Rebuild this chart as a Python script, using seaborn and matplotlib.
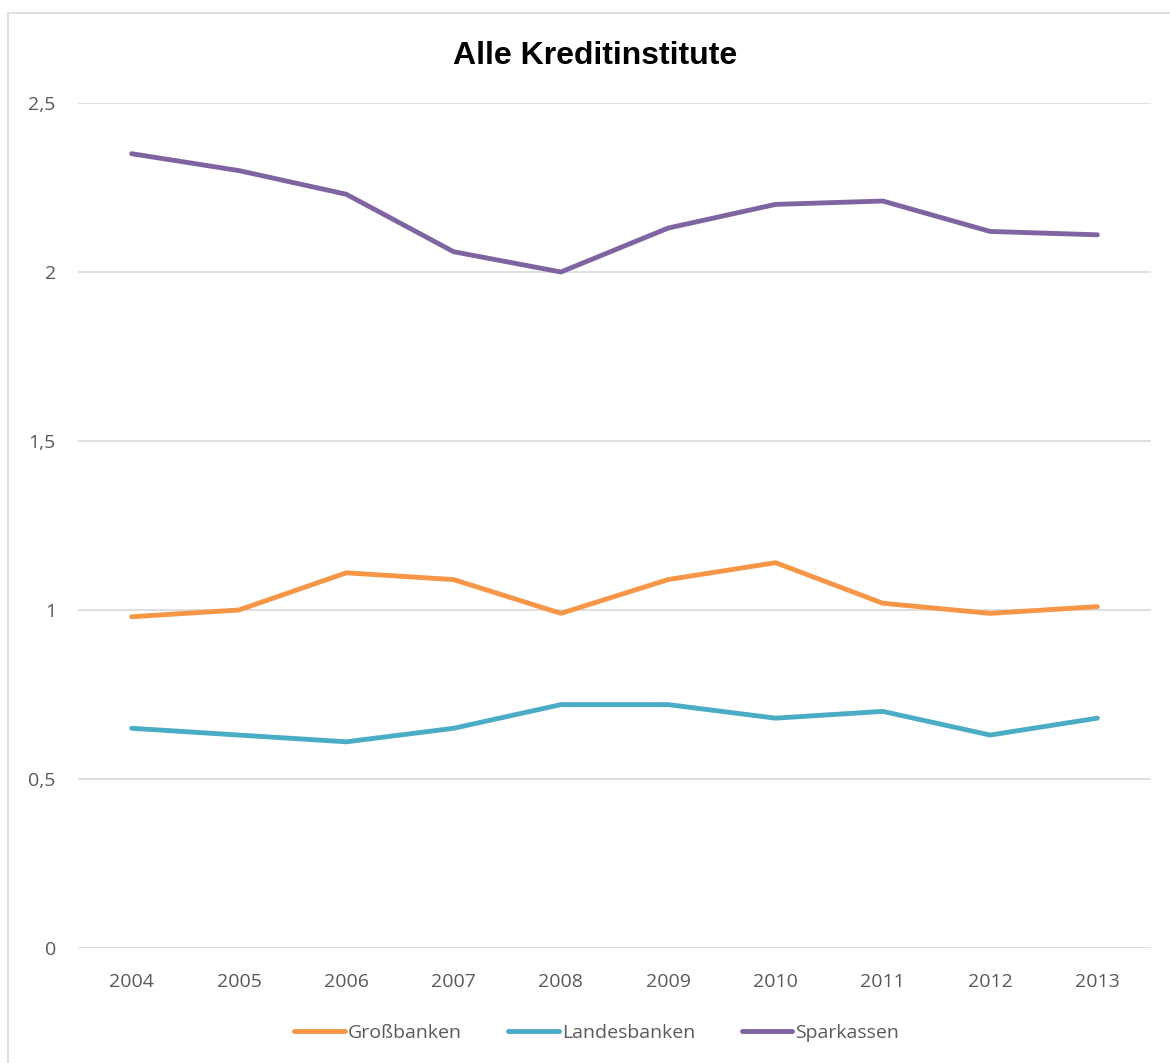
import numpy as np
import pandas as pd
import matplotlib.pyplot as plt
import seaborn as sns
from matplotlib.patches import Rectangle

years = [2004, 2005, 2006, 2007, 2008, 2009, 2010, 2011, 2012, 2013]
grossbanken = [0.98, 1.00, 1.11, 1.09, 0.99, 1.09, 1.14, 1.02, 0.99, 1.01]
landesbanken = [0.65, 0.63, 0.61, 0.65, 0.72, 0.72, 0.68, 0.70, 0.63, 0.68]
sparkassen = [2.35, 2.30, 2.23, 2.06, 2.00, 2.13, 2.20, 2.21, 2.12, 2.11]
series_names = ["Großbanken", "Landesbanken", "Sparkassen"]
colors = ["#F79646", "#4BACC6", "#8064A2"]
ytick_vals = [0, 0.5, 1, 1.5, 2, 2.5]
ytick_labels = ["0", "0,5", "1", "1,5", "2", "2,5"]

# long format for seaborn, x as category index
df = pd.DataFrame({
    "pos": list(range(len(years))) * 3,
    "wert": grossbanken + landesbanken + sparkassen,
    "reihe": np.repeat(series_names, len(years)),
})

sns.set_style("white")
plt.rcParams["font.family"] = ["Open Sans", "DejaVu Sans"]

fig = plt.figure(figsize=(11.7, 10.63), dpi=100)
ax = fig.add_axes([0.0667, 0.1082, 0.9171, 0.7949])

sns.lineplot(data=df, x="pos", y="wert", hue="reihe", hue_order=series_names,
             palette=colors, linewidth=3.5, ax=ax, legend=False)

ax.set_xlim(-0.5, len(years) - 0.5)
ax.set_ylim(0, 2.5)
ax.set_xticks(range(len(years)))
ax.set_xticklabels([str(y) for y in years])
ax.set_yticks(ytick_vals)
ax.set_yticklabels(ytick_labels)
ax.tick_params(axis="both", length=0, labelsize=14, labelcolor="#595959")
ax.tick_params(axis="y", pad=16)
ax.tick_params(axis="x", pad=18)
ax.grid(axis="y", color="#D9D9D9", linewidth=1.2)
ax.set_axisbelow(True)
for s in ax.spines.values():
    s.set_visible(False)
ax.set_xlabel("")
ax.set_ylabel("")

fig.text(0.5085, 0.947, "Alle Kreditinstitute", ha="center", va="center",
         fontsize=23, fontweight="bold", color="black",
         family=["Liberation Sans", "DejaVu Sans"])

handles = [plt.Line2D([], [], color=c, linewidth=3.5, solid_capstyle="round")
           for c in colors]
fig.legend(handles, series_names, loc="center", bbox_to_anchor=(0.51, 0.028),
           ncol=3, frameon=False, fontsize=14, handlelength=2.6,
           handletextpad=0.15, columnspacing=2.4, labelcolor="#595959")

# outer chart border (partially cropped in the reference)
fig.patches.append(Rectangle((8 / 1170, -0.1), 1.2, 1 - 13 / 1063 + 0.1,
                             transform=fig.transFigure, fill=False,
                             edgecolor="#D9D9D9", linewidth=1.2))

fig.savefig("out.png", dpi=100)
